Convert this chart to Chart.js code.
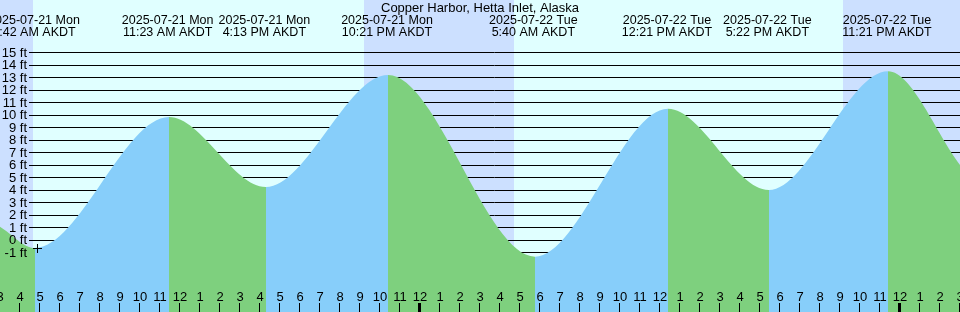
<!DOCTYPE html>
<html lang="en">
<head>
  <meta charset="UTF-8">
  <title>Copper Harbor tides</title>
  <style>
    body { margin: 0; background: #fff; }
    .canvas_box { width: 960px; height: 312px; }
  </style>
  <script src="https://cdn.jsdelivr.net/npm/chart.js@4.4.6/dist/chart.umd.min.js"></script>
</head>
<body>
<div class="canvas_box">
  <canvas id="myChart" width="960" height="312"></canvas>
</div>
<script>
// hours are counted from 2025-07-22 00:00 AKDT
var title = 'Copper Harbor, Hetta Inlet, Alaska';

// tide curve: window edges + highs and lows
var tideHours = [-21, -19.25, -12.55, -7.7, -1.6, 5.75, 12.4, 17.45, 23.4, 27];
var tideFeet  = [1.07, -0.64, 9.84, 4.24, 13.2, -1.33, 10.5, 4.0, 13.5, 6.0];

// labels over the highs and lows
var eventHours = [-19.3, -12.617, -7.783, -1.65, 5.667, 12.35, 17.367, 23.35];
var eventDates = ['2025-07-21 Mon', '2025-07-21 Mon', '2025-07-21 Mon', '2025-07-21 Mon',
                  '2025-07-22 Tue', '2025-07-22 Tue', '2025-07-22 Tue', '2025-07-22 Tue'];
var eventTimes = ['4:42 AM AKDT', '11:23 AM AKDT', '4:13 PM AKDT', '10:21 PM AKDT',
                  '5:40 AM AKDT', '12:21 PM AKDT', '5:22 PM AKDT', '11:21 PM AKDT'];

// night bands [start, end]
var nightStart = [-21, -2.8, 21.15];
var nightEnd   = [-19.35, 4.7, 27];

var yTicks = [15, 14, 13, 12, 11, 10, 9, 8, 7, 6, 5, 4, 3, 2, 1, 0, -1];
var hourTicks = [];
for (var h = -21; h <= 27; h++) hourTicks.push(h);

var markHour = [-19.125];
var markFeet = [-0.68];

var DAY = '#e0ffff', NIGHT = '#cce0ff';
var RISE = '#87cefa', FALL = '#7ed07e';
var FONT = '13px "Liberation Sans", Arial, sans-serif';
var EVENT_FONT = '12.5px "Liberation Sans", Arial, sans-serif';

function hourLabel(h) {
  var v = ((h % 24) + 24) % 24;
  v = v % 12;
  return String(v === 0 ? 12 : v);
}

var tidePlugin = {
  id: 'tideDecor',
  beforeDatasetsDraw: function(chart) {
    var c = chart.ctx, x = chart.scales.x, y = chart.scales.y, a = chart.chartArea;
    c.save();
    c.fillStyle = DAY;
    c.fillRect(a.left, a.top, a.right - a.left, a.bottom - a.top);
    c.fillStyle = NIGHT;
    for (var i = 0; i < nightStart.length; i++) {
      var x0 = Math.round(x.getPixelForValue(nightStart[i]));
      var x1 = Math.round(x.getPixelForValue(nightEnd[i]));
      c.fillRect(x0, a.top, x1 - x0, a.bottom - a.top);
    }
    c.strokeStyle = '#000';
    c.lineWidth = 1;
    c.beginPath();
    yTicks.forEach(function(v) {
      var py = Math.floor(y.getPixelForValue(v)) + 0.5;
      c.moveTo(29, py);
      c.lineTo(a.right, py);
    });
    c.stroke();
    c.restore();
  },
  afterDatasetsDraw: function(chart) {
    var c = chart.ctx, x = chart.scales.x, y = chart.scales.y, a = chart.chartArea;
    c.save();
    c.font = FONT;
    c.fillStyle = '#000';
    // y labels
    c.textAlign = 'right';
    c.textBaseline = 'middle';
    yTicks.forEach(function(v) {
      c.fillText(v + ' ft', 27, y.getPixelForValue(v) + 0.5);
    });
    // hour labels and ticks
    c.textAlign = 'center';
    c.textBaseline = 'alphabetic';
    hourTicks.forEach(function(h) {
      var px = Math.round(x.getPixelForValue(h));
      c.fillText(hourLabel(h), px, 301);
      var midnight = (((h % 24) + 24) % 24) === 0;
      c.fillRect(midnight ? px - 2 : px - 1, 303, midnight ? 3 : 1, a.bottom - 303);
    });
    // title and event labels
    c.fillText(title, 480, 12);
    c.font = EVENT_FONT;
    for (var i = 0; i < eventHours.length; i++) {
      var ex = x.getPixelForValue(eventHours[i]);
      c.fillText(eventDates[i], ex, 24);
      c.fillText(eventTimes[i], ex, 36);
    }
    c.restore();
  }
};

var ctx = document.getElementById('myChart');
var myChart = new Chart(ctx, {
  type: 'line',
  data: {
    datasets: [
      {
        label: 'tide',
        data: tideHours.map(function(h, i) { return {x: h, y: tideFeet[i]}; }),
        order: 1,
        fill: 'start',
        borderWidth: 0,
        borderColor: 'rgba(0,0,0,0)',
        backgroundColor: FALL,
        pointRadius: 0,
        cubicInterpolationMode: 'monotone',
        segment: {
          backgroundColor: function(s) {
            return s.p1.parsed.y > s.p0.parsed.y ? RISE : FALL;
          }
        }
      },
      {
        label: 'mark',
        type: 'scatter',
        data: markHour.map(function(h, i) { return {x: h, y: markFeet[i]}; }),
        order: 0,
        pointStyle: 'cross',
        pointRadius: 4.5,
        backgroundColor: '#000',
        borderColor: '#000',
        borderWidth: 1
      }
    ]
  },
  options: {
    responsive: false,
    animation: false,
    layout: { padding: 0, autoPadding: false },
    plugins: {
      legend: { display: false },
      title: { display: false },
      tooltip: { enabled: false }
    },
    scales: {
      x: { type: 'linear', min: -21, max: 27, display: false },
      y: { type: 'linear', min: -5.76, max: 19.2, display: false }
    }
  },
  plugins: [tidePlugin]
});
</script>
</body>
</html>
